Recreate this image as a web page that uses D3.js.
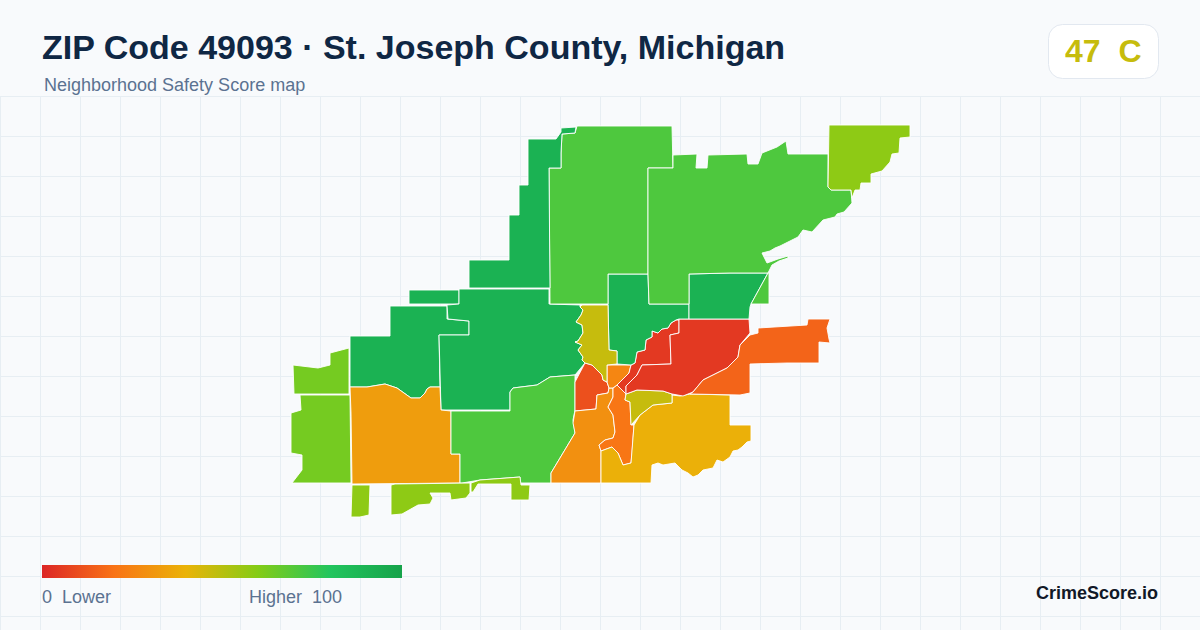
<!DOCTYPE html>
<html>
<head>
<meta charset="utf-8">
<title>ZIP Code 49093</title>
<script src="https://cdn.jsdelivr.net/npm/d3@7"></script>
<style>
  html, body { margin: 0; padding: 0; background: #f8fafc; }
  svg { display: block; font-family: "Liberation Sans", Arial, sans-serif; }
</style>
</head>
<body>
<div id="map"></div>
<script>
// Score of each tract, same order as tractRings
var tractScores = [63, 63, 91, 91, 91, 33, 71, 11, 29, 21, 39, 47, 26, 5, 5, 16, 91, 91, 71, 71, 91, 71, 58, 58, 58, 58, 47];

// Outline of each tract (map units)
var tractRings = [
  [[293,365],[318,368],[330,365],[330,353],[349,348],[349,394],[294,394]],
  [[300,395],[350,395],[351,483],[292,483],[302,470],[302,455],[291,453],[291,413],[301,410]],
  [[350,336],[390,336],[390,306],[447,306],[447,319],[469,321],[469,335],[439,335],[440,387],[430,387],[427,389],[425,393],[420,398],[411,398],[397,388],[385,384],[367,387],[350,387]],
  [[409,290],[459,290],[459,304],[409,304]],
  [[459,289],[549,289],[549,304],[580,305],[580,307],[583,310],[581,315],[576,322],[582,325],[583,333],[578,341],[575,342],[582,345],[578,350],[583,357],[582,360],[585,363],[575,375],[550,377],[537,385],[513,388],[510,392],[510,410],[441,410],[439,335],[469,335],[469,321],[448,319],[447,305],[459,304]],
  [[350,387],[367,387],[385,384],[397,388],[411,398],[420,398],[425,393],[427,389],[430,387],[440,387],[441,410],[451,411],[451,454],[460,454],[460,483],[352,484],[351,413]],
  [[451,411],[510,411],[510,392],[513,388],[537,385],[550,377],[575,375],[575,410],[573,420],[575,433],[551,473],[551,483],[520,483],[520,477],[480,480],[462,483],[460,483],[460,454],[451,454]],
  [[585,363],[592,365],[602,375],[603,380],[607,382],[609,388],[608,393],[597,395],[596,409],[575,411],[575,382]],
  [[575,411],[596,409],[597,395],[608,393],[609,388],[613,388],[613,397],[608,407],[613,415],[615,432],[613,438],[605,440],[599,445],[601,451],[601,483],[551,483],[551,473],[575,433],[573,423]],
  [[613,388],[617,385],[626,394],[625,400],[630,402],[631,425],[634,425],[632,453],[631,463],[623,465],[618,453],[612,447],[601,451],[599,445],[605,440],[613,438],[615,432],[613,415],[608,407],[613,397]],
  [[601,451],[612,447],[618,453],[623,465],[631,463],[634,425],[640,415],[653,405],[672,403],[672,395],[680,396],[690,394],[730,395],[730,425],[751,425],[751,441],[747,442],[742,447],[738,450],[733,451],[730,457],[723,462],[717,460],[713,468],[703,470],[698,475],[693,477],[688,473],[682,470],[675,463],[663,465],[658,463],[652,465],[651,483],[601,483]],
  [[626,394],[637,390],[663,391],[672,394],[672,403],[653,405],[640,415],[631,425],[630,402],[625,400]],
  [[607,365],[631,365],[629,373],[617,385],[613,388],[609,388],[607,382]],
  [[676,320],[679,320],[679,333],[670,335],[671,364],[642,365],[637,375],[626,386],[626,394],[617,385],[629,373],[631,365],[635,363],[637,352],[645,350],[646,340],[652,337],[652,331],[658,333],[662,329],[668,328],[671,323]],
  [[679,319],[749,319],[750,333],[740,345],[738,357],[727,368],[703,380],[693,392],[683,396],[672,394],[663,391],[637,390],[626,394],[626,386],[637,375],[642,365],[671,364],[670,335],[679,333]],
  [[750,335],[758,333],[758,328],[807,325],[808,319],[830,319],[827,328],[829,339],[830,343],[819,342],[819,363],[787,363],[750,364],[750,393],[740,395],[690,394],[693,392],[703,380],[727,368],[738,357],[740,345]],
  [[608,274],[648,274],[649,304],[689,304],[689,319],[679,319],[676,320],[671,323],[668,328],[662,329],[658,333],[652,331],[652,337],[646,340],[645,350],[637,352],[635,363],[631,365],[617,364],[617,351],[609,350],[608,305]],
  [[689,274],[730,273],[768,273],[751,304],[750,307],[749,319],[689,319]],
  [[768,273],[769,273],[769,304],[751,304]],
  [[577,126],[672,126],[673,168],[648,168],[648,274],[608,274],[608,304],[550,304],[549,168],[561,168],[561,153],[562,134],[575,133]],
  [[561,128],[576,127],[575,133],[562,134],[561,153],[561,168],[549,168],[550,288],[469,288],[469,260],[509,260],[509,215],[519,215],[519,185],[528,185],[528,139],[556,139],[561,132]],
  [[673,155],[697,154],[696,168],[707,168],[708,155],[747,154],[748,164],[758,164],[762,153],[777,147],[786,141],[788,154],[800,154],[828,154],[828,187],[831,190],[851,190],[852,203],[844,212],[837,214],[835,217],[823,220],[812,232],[803,230],[798,237],[792,240],[780,246],[775,248],[770,251],[762,253],[767,263],[778,259],[788,256],[788,258],[779,261],[772,265],[768,273],[730,273],[689,274],[689,304],[649,304],[648,274],[648,168],[673,168]],
  [[829,125],[910,125],[910,137],[900,138],[899,153],[892,154],[890,162],[882,171],[871,174],[871,183],[861,183],[860,190],[855,190],[852,198],[851,190],[831,190],[828,187]],
  [[352,485],[370,485],[369,515],[360,517],[351,517]],
  [[391,485],[395,484],[470,483],[470,493],[466,498],[451,500],[450,493],[430,493],[433,498],[430,504],[418,505],[402,514],[391,515]],
  [[471,483],[480,480],[520,477],[521,485],[530,485],[529,500],[511,500],[511,484],[478,484],[473,492],[471,492]],
  [[582,305],[608,305],[609,350],[617,351],[617,364],[607,365],[607,382],[603,380],[602,375],[592,365],[585,363],[582,360],[583,357],[578,350],[582,345],[575,342],[578,341],[583,333],[582,325],[576,322],[581,315],[583,310],[580,307]]
];

// Colour ramp
var scoreStops = [0, 20, 40, 60, 80, 100];
var scoreColors = ["#dc2626", "#f97316", "#eab308", "#84cc16", "#22c55e", "#16a34a"];

// Text
var titleText = "ZIP Code 49093 \u00b7 St. Joseph County, Michigan";
var subtitleText = "Neighborhood Safety Score map";
var badgeText = "47\u00a0\u00a0C";
var badgeScore = 47;
var legendLow = "0\u00a0\u00a0Lower";
var legendHigh = "Higher\u00a0\u00a0100";
var brandText = "CrimeScore.io";

var svgWidth = 1200;
var svgHeight = 630;

var svg = d3.select("#map")
  .append("svg")
  .attr("width", svgWidth)
  .attr("height", svgHeight);

svg.append("rect")
  .attr("width", svgWidth)
  .attr("height", svgHeight)
  .attr("fill", "#f8fafc");

var color = d3.scaleLinear()
  .domain(scoreStops)
  .range(scoreColors);

// background grid
var gridGroup = svg.append("g")
  .attr("stroke", "#e7eef3")
  .attr("stroke-width", 1);

gridGroup.selectAll("line.v")
  .data(d3.range(0, svgWidth, 40))
  .enter()
  .append("line")
  .attr("class", "v")
  .attr("x1", d => d + 0.5)
  .attr("x2", d => d + 0.5)
  .attr("y1", 96)
  .attr("y2", svgHeight);

gridGroup.selectAll("line.h")
  .data(d3.range(96.5, svgHeight, 40))
  .enter()
  .append("line")
  .attr("class", "h")
  .attr("x1", 0)
  .attr("x2", svgWidth)
  .attr("y1", d => d)
  .attr("y2", d => d);

// tracts
var path = d3.geoPath(d3.geoIdentity());

svg.append("g")
  .selectAll("path")
  .data(tractRings)
  .enter()
  .append("path")
  .attr("d", d => path({ type: "Polygon", coordinates: [d.concat([d[0]])] }))
  .attr("fill", (d, i) => color(tractScores[i]))
  .attr("stroke", "#ffffff")
  .attr("stroke-width", 0.9)
  .attr("stroke-linejoin", "round");

// header
svg.append("text")
  .attr("x", 42)
  .attr("y", 59)
  .attr("font-size", 34)
  .attr("font-weight", 700)
  .attr("fill", "#0f2744")
  .text(titleText);

svg.append("text")
  .attr("x", 44)
  .attr("y", 91)
  .attr("font-size", 18)
  .attr("fill", "#5b7291")
  .text(subtitleText);

svg.append("rect")
  .attr("x", 1048.5)
  .attr("y", 24.5)
  .attr("width", 110)
  .attr("height", 54)
  .attr("rx", 14)
  .attr("fill", "#ffffff")
  .attr("stroke", "#e2e8f0");

svg.append("text")
  .attr("x", 1065)
  .attr("y", 62)
  .attr("font-size", 32)
  .attr("font-weight", 700)
  .attr("fill", color(badgeScore))
  .text(badgeText);

// legend
var legendScale = d3.scaleLinear().domain([0, 100]).range([42, 402]);

var gradient = svg.append("defs")
  .append("linearGradient")
  .attr("id", "scoreRamp");

gradient.selectAll("stop")
  .data(scoreStops)
  .enter()
  .append("stop")
  .attr("offset", d => d + "%")
  .attr("stop-color", d => color(d));

svg.append("rect")
  .attr("x", legendScale(0))
  .attr("y", 565)
  .attr("width", legendScale(100) - legendScale(0))
  .attr("height", 13)
  .attr("fill", "url(#scoreRamp)");

svg.append("text")
  .attr("x", 42)
  .attr("y", 603)
  .attr("font-size", 18)
  .attr("fill", "#5b7291")
  .text(legendLow);

svg.append("text")
  .attr("x", 342)
  .attr("y", 603)
  .attr("text-anchor", "end")
  .attr("font-size", 18)
  .attr("fill", "#5b7291")
  .text(legendHigh);

svg.append("text")
  .attr("x", 1158)
  .attr("y", 599)
  .attr("text-anchor", "end")
  .attr("font-size", 18)
  .attr("font-weight", 700)
  .attr("fill", "#111827")
  .text(brandText);
</script>
</body>
</html>
